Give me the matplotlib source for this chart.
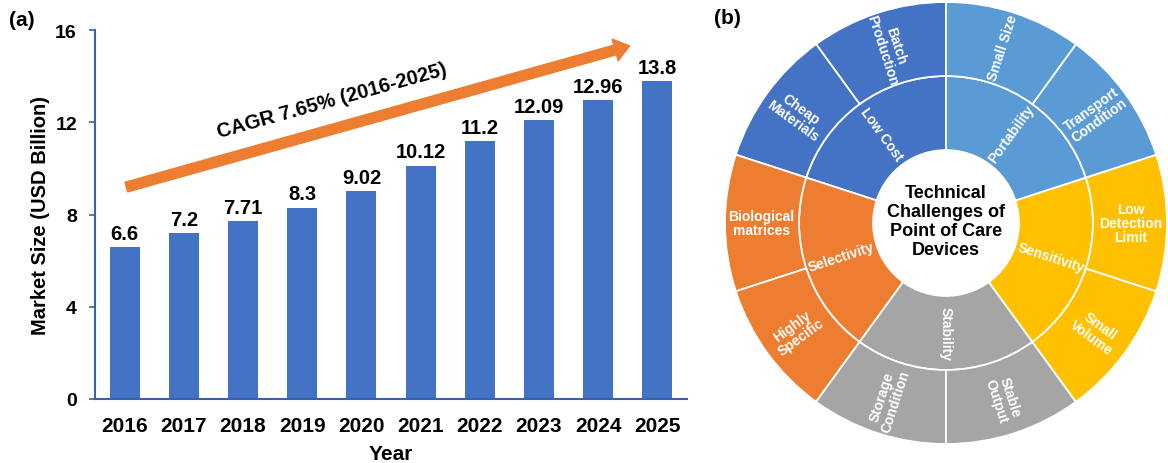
import numpy as np
import matplotlib
matplotlib.use("Agg")
import matplotlib.pyplot as plt
from matplotlib.patches import FancyArrowPatch

plt.rcParams['font.family'] = ['Liberation Sans', 'DejaVu Sans']

# market size data
years = ['2016', '2017', '2018', '2019', '2020', '2021', '2022', '2023', '2024', '2025']
market_size = [6.6, 7.2, 7.71, 8.3, 9.02, 10.12, 11.2, 12.09, 12.96, 13.8]
yticks = [0, 4, 8, 12, 16]
cagr_text = 'CAGR 7.65% (2016-2025)'

# sunburst data
inner_labels = ['Low Cost', 'Selectivity', 'Stability', 'Sensitivity', 'Portability']
inner_colors = ['#4472C4', '#ED7D31', '#A5A5A5', '#FFC000', '#5B9BD5']
outer_labels = ['Batch\nProduction', 'Cheap\nMaterials',
                'Biological\nmatrices', 'Highly\nSpecific',
                'Storage\nCondition', 'Stable\nOutput',
                'Small\nVolume', 'Low\nDetection\nLimit',
                'Transport\nCondition', 'Small Size']
outer_parent = [0, 0, 1, 1, 2, 2, 3, 3, 4, 4]
center_text = 'Technical\nChallenges of\nPoint of Care\nDevices'

bar_color = '#4472C4'
spine_color = '#3A62AC'
orange = '#ED7D31'

fig = plt.figure(figsize=(11.68, 4.64), dpi=100)

# ---- (a) bar chart ----
ax = fig.add_axes([95/1168, 64/464, 592/1168, 369/464])
x = np.arange(len(years))
bars = ax.bar(x, market_size, width=0.51, color=bar_color, zorder=2)
for xi, v in zip(x, market_size):
    ax.annotate('{:g}'.format(v), (xi, v), xytext=(0, 3), textcoords='offset points',
                ha='center', va='bottom', fontsize=14.5, fontweight='bold')

ax.set_xlim(-0.5, 9.5)
ax.set_ylim(0, 16)
ax.set_yticks(yticks)
ax.set_xticks(x)
ax.set_xticklabels(years)
for s in ['top', 'right']:
    ax.spines[s].set_visible(False)
for s in ['left', 'bottom']:
    ax.spines[s].set_color(spine_color)
    ax.spines[s].set_linewidth(1.5)
ax.tick_params(axis='y', length=4, width=1.2, color=spine_color, labelsize=14, pad=9)
ax.tick_params(axis='x', length=0, labelsize=15, pad=12)
for lab in ax.get_xticklabels() + ax.get_yticklabels():
    lab.set_fontweight('bold')
ax.set_xlabel('Year', fontsize=15, fontweight='bold', labelpad=7)
ax.set_ylabel('Market Size (USD Billion)', fontsize=14.5, fontweight='bold', labelpad=4)

# growth arrow
arrow = FancyArrowPatch((0.03, 9.19), (8.53, 15.31),
                        arrowstyle='simple,head_length=0.9,head_width=1.35,tail_width=0.6',
                        mutation_scale=12, color=orange, shrinkA=0, shrinkB=0, zorder=3)
ax.add_patch(arrow)
ax.text(3.51, 12.95, cagr_text, rotation=15.5, ha='center', va='center',
        fontsize=14.5, fontweight='bold')

fig.text(22/1168, 1 - 20/464, '(a)', fontsize=15, fontweight='bold', ha='center', va='center')

# ---- (b) sunburst ----
axb = fig.add_axes([725/1168, 19/464, 442/1168, 442/464])
axb.set_aspect('equal')
axb.axis('off')

outer_colors = [inner_colors[p] for p in outer_parent]
wedge_kw = dict(edgecolor='white', linewidth=1.3)
w_in, _ = axb.pie([1]*len(inner_labels), radius=0.665, colors=inner_colors,
                  startangle=90, counterclock=True,
                  wedgeprops=dict(width=0.335, **wedge_kw))
w_out, _ = axb.pie([1]*len(outer_labels), radius=1.0, colors=outer_colors,
                   startangle=90, counterclock=True,
                   wedgeprops=dict(width=0.335, **wedge_kw))
axb.set_xlim(-1, 1)
axb.set_ylim(-1, 1)


def radial_label(w, r, text, size):
    ang = (w.theta1 + w.theta2) / 2
    rot = ang % 360
    if 90 < rot < 270:
        rot -= 180
    elif rot >= 270:
        rot -= 360
    a = np.deg2rad(ang)
    axb.text(r*np.cos(a), r*np.sin(a), text, rotation=rot, rotation_mode='anchor',
             ha='center', va='center', color='white', fontsize=size,
             fontweight='bold', linespacing=1.0)


for w, t in zip(w_in, inner_labels):
    radial_label(w, 0.5, t, 10)
for w, t in zip(w_out, outer_labels):
    radial_label(w, 0.835, t, 10)

axb.text(0, 0.01, center_text, ha='center', va='center', fontsize=13,
         fontweight='bold', linespacing=1.15)

fig.text(727/1168, 1 - 18/464, '(b)', fontsize=15, fontweight='bold', ha='center', va='center')

plt.savefig('out.png', dpi=100)
